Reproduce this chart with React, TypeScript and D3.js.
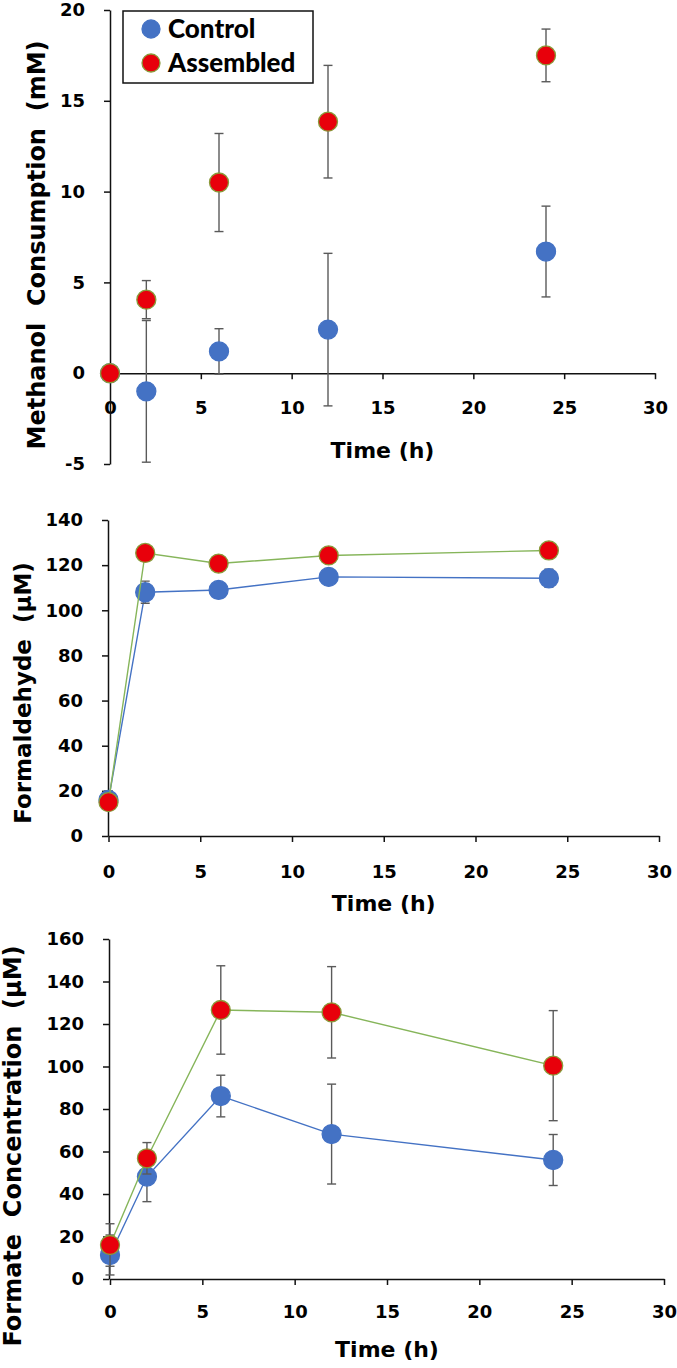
import React, { useRef, useEffect } from 'react';
import * as d3 from 'd3';

// sampling times (h)
const times = [0, 2, 6, 12, 24];

// methanol consumption (mM)
const methanolControl = [0, -1.0, 1.2, 2.4, 6.7];
const methanolControlErr = [0, 3.9, 1.25, 4.2, 2.5];
const methanolAssembled = [0, 4.05, 10.5, 13.85, 17.5];
const methanolAssembledErr = [0, 1.05, 2.7, 3.1, 1.45];

// formaldehyde (uM)
const formaldehydeControl = [16, 108, 109, 114.8, 114.2];
const formaldehydeControlErr = [4, 4.9, 2.5, 3, 4];
const formaldehydeAssembled = [15, 125.4, 120.7, 124.3, 126.5];
const formaldehydeAssembledErr = [3.5, 3.5, 2.5, 2.5, 2.5];

// formate (uM)
const formateControl = [11.3, 48.2, 86.1, 68.2, 56];
const formateControlErr = [9.4, 11.8, 9.8, 23.5, 12];
const formateAssembled = [16, 56.8, 126.6, 125.5, 100.4];
const formateAssembledErr = [10, 7.4, 20.8, 21.5, 25.9];

const xTicks = [0, 5, 10, 15, 20, 25, 30];
const methanolTicks = [-5, 0, 5, 10, 15, 20];
const formaldehydeTicks = [0, 20, 40, 60, 80, 100, 120, 140];
const formateTicks = [0, 20, 40, 60, 80, 100, 120, 140, 160];

const seriesNames = ['Control', 'Assembled'];

const FONT = '"DejaVu Sans", sans-serif';
const CONTROL = '#4472C4';
const ASSEMBLED = '#E8000B';
const ASSEMBLED_EDGE = '#8A9A3A';
const GREEN_LINE = '#86B55A';
const ERR = '#5a5a5a';

function drawPanel(svg, cfg) {
  const x = d3.scaleLinear().domain([0, 30]).range(cfg.xRange);
  const y = d3.scaleLinear().domain(cfg.yDomain).range(cfg.yRange);
  const g = svg.append('g');

  // x axis sits at y = 0
  const xAx = g.append('g')
    .attr('transform', `translate(0,${y(0)})`)
    .call(d3.axisBottom(x).tickValues(xTicks).tickSize(6).tickSizeOuter(0).tickFormat(d => String(d)));
  const yAx = g.append('g')
    .attr('transform', `translate(${cfg.yAxisX},0)`)
    .call(d3.axisLeft(y).tickValues(cfg.yTicks).tickSize(6).tickSizeOuter(0).tickFormat(d => String(d)));

  [xAx, yAx].forEach(a => {
    a.select('.domain').attr('stroke', '#111').attr('stroke-width', 1.5);
    a.selectAll('.tick line').attr('stroke', '#111').attr('stroke-width', 1.5);
    a.selectAll('text')
      .style('font-family', FONT)
      .style('font-weight', 'bold')
      .style('font-size', '18px')
      .attr('fill', '#000');
  });
  xAx.selectAll('text').attr('y', cfg.xLabelOffset).attr('dy', '0.71em');
  yAx.selectAll('text').attr('x', -25);

  // axis titles
  g.append('text')
    .attr('x', (cfg.xRange[0] + cfg.xRange[1]) / 2)
    .attr('y', cfg.timeY)
    .attr('text-anchor', 'middle')
    .style('font-family', FONT).style('font-weight', 'bold').style('font-size', '22px')
    .text('Time (h)');
  g.append('text')
    .attr('transform', `translate(${cfg.titleX},${cfg.titleY}) rotate(-90)`)
    .attr('text-anchor', 'middle')
    .attr('dy', '0.35em')
    .style('font-family', FONT).style('font-weight', 'bold').style('font-size', cfg.titleSize + 'px')
    .style('white-space', 'pre')
    .text(cfg.title);

  const clipId = 'clip-' + cfg.id;
  svg.append('clipPath').attr('id', clipId)
    .append('rect')
    .attr('x', cfg.xRange[0] - 20).attr('y', cfg.yRange[1])
    .attr('width', cfg.xRange[1] - cfg.xRange[0] + 40)
    .attr('height', cfg.yRange[0] - cfg.yRange[1]);

  const series = [
    { vals: cfg.control, err: cfg.controlErr, fill: CONTROL, edge: CONTROL, line: CONTROL },
    { vals: cfg.assembled, err: cfg.assembledErr, fill: ASSEMBLED, edge: ASSEMBLED_EDGE, line: GREEN_LINE },
  ];

  series.forEach(s => {
    const pts = times.map((t, i) => ({ t, v: s.vals[i], e: s.err[i] }));
    if (cfg.lines) {
      g.append('path')
        .datum(pts)
        .attr('fill', 'none')
        .attr('stroke', s.line)
        .attr('stroke-width', 1.4)
        .attr('d', d3.line().x(d => x(d.t)).y(d => y(d.v)));
    }
    const eb = g.append('g').attr('clip-path', `url(#${clipId})`)
      .attr('stroke', ERR).attr('stroke-width', 1.4);
    pts.filter(d => d.e > 0).forEach(d => {
      eb.append('line').attr('x1', x(d.t)).attr('x2', x(d.t))
        .attr('y1', y(d.v - d.e)).attr('y2', y(d.v + d.e));
      [d.v - d.e, d.v + d.e].forEach(c => {
        eb.append('line').attr('x1', x(d.t) - 4.5).attr('x2', x(d.t) + 4.5)
          .attr('y1', y(c)).attr('y2', y(c));
      });
    });
    g.selectAll(null).data(pts).enter().append('circle')
      .attr('cx', d => x(d.t)).attr('cy', d => y(d.v)).attr('r', 9.5)
      .attr('fill', s.fill).attr('stroke', s.edge).attr('stroke-width', 1.3);
  });
}

export default function App() {
  const ref = useRef(null);

  useEffect(() => {
    const svg = d3.select(ref.current);
    svg.selectAll('*').remove();

    drawPanel(svg, {
      id: 'meth', xRange: [110, 655], yDomain: [-5, 20], yRange: [464, 10], yAxisX: 110,
      yTicks: methanolTicks, xLabelOffset: 28, timeY: 458,
      title: 'Methanol  Consumption  (mM)', titleX: 37, titleY: 245, titleSize: 24,
      control: methanolControl, controlErr: methanolControlErr,
      assembled: methanolAssembled, assembledErr: methanolAssembledErr, lines: false,
    });
    drawPanel(svg, {
      id: 'form', xRange: [108.5, 659], yDomain: [0, 140], yRange: [836, 520], yAxisX: 108,
      yTicks: formaldehydeTicks, xLabelOffset: 29, timeY: 911,
      title: 'Formaldehyde  (µM)', titleX: 23, titleY: 693, titleSize: 23,
      control: formaldehydeControl, controlErr: formaldehydeControlErr,
      assembled: formaldehydeAssembled, assembledErr: formaldehydeAssembledErr, lines: true,
    });
    drawPanel(svg, {
      id: 'fmt', xRange: [110, 664], yDomain: [0, 160], yRange: [1279, 939], yAxisX: 109,
      yTicks: formateTicks, xLabelOffset: 26, timeY: 1357,
      title: 'Formate  Concentration  (µM)', titleX: 13, titleY: 1146, titleSize: 24,
      control: formateControl, controlErr: formateControlErr,
      assembled: formateAssembled, assembledErr: formateAssembledErr, lines: true,
    });

    // legend in the top panel
    const lg = svg.append('g');
    lg.append('rect').attr('x', 123).attr('y', 11).attr('width', 190).attr('height', 72)
      .attr('fill', '#fff').attr('stroke', '#111').attr('stroke-width', 1.5);
    seriesNames.forEach((name, i) => {
      const cy = 29 + i * 34;
      lg.append('circle').attr('cx', 151).attr('cy', cy).attr('r', 9)
        .attr('fill', i === 0 ? CONTROL : ASSEMBLED)
        .attr('stroke', i === 0 ? CONTROL : ASSEMBLED_EDGE).attr('stroke-width', 1.3);
      lg.append('text').attr('x', 168).attr('y', cy + 9)
        .style('font-family', 'Lato, sans-serif').style('font-weight', '900').style('font-size', '26px')
        .text(name);
    });
  }, []);

  return (
    <svg ref={ref} width={677} height={1368}
      style={{ position: 'absolute', left: 0, top: 0, background: '#fff' }} />
  );
}
